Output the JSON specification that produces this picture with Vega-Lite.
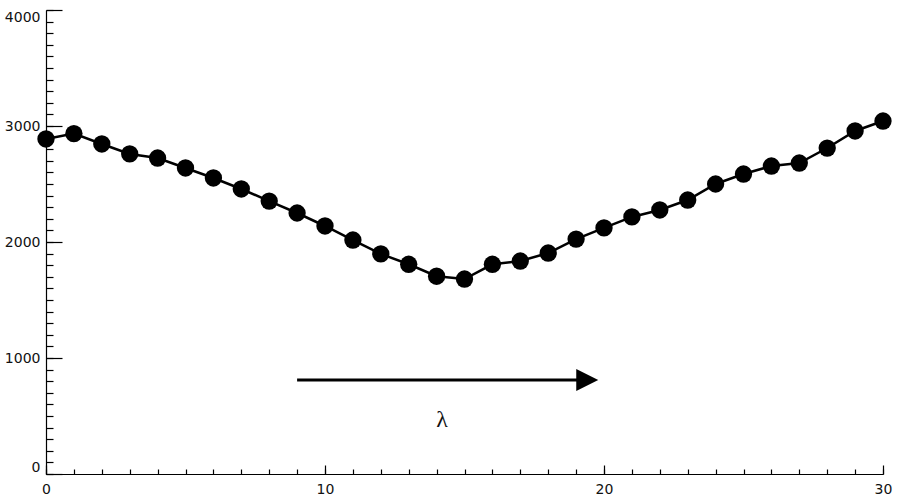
{
  "$schema": "https://vega.github.io/schema/vega-lite/v6.json",
  "width": 837,
  "height": 464,
  "autosize": {"type": "none"},
  "padding": {"left": 46, "top": 10, "right": 17, "bottom": 26},
  "background": "white",
  "config": {
    "view": {"stroke": null},
    "axis": {"labelFont": "DejaVu Sans", "labelFontSize": 14, "labelColor": "#111", "domainColor": "black", "tickColor": "black", "grid": false, "title": null, "domainWidth": 1.2, "tickWidth": 1.2, "format": "d"}
  },
  "datasets": {
    "series": [
      {"x": 0, "y": 2888}, {"x": 1, "y": 2935}, {"x": 2, "y": 2845}, {"x": 3, "y": 2759},
      {"x": 4, "y": 2724}, {"x": 5, "y": 2638}, {"x": 6, "y": 2552}, {"x": 7, "y": 2457},
      {"x": 8, "y": 2353}, {"x": 9, "y": 2250}, {"x": 10, "y": 2138}, {"x": 11, "y": 2017},
      {"x": 12, "y": 1897}, {"x": 13, "y": 1808}, {"x": 14, "y": 1705}, {"x": 15, "y": 1681},
      {"x": 16, "y": 1808}, {"x": 17, "y": 1836}, {"x": 18, "y": 1905}, {"x": 19, "y": 2025},
      {"x": 20, "y": 2121}, {"x": 21, "y": 2216}, {"x": 22, "y": 2276}, {"x": 23, "y": 2362},
      {"x": 24, "y": 2500}, {"x": 25, "y": 2586}, {"x": 26, "y": 2655}, {"x": 27, "y": 2681},
      {"x": 28, "y": 2810}, {"x": 29, "y": 2957}, {"x": 30, "y": 3043}
    ],
    "arrow": [{"x": 9, "x2": 19.1, "y": 810, "head": 19.4}],
    "label": [{"x": 14.2, "y": 465, "text": "λ"}]
  },
  "resolve": {"axis": {"x": "independent", "y": "independent"}},
  "layer": [
    {
      "data": {"name": "series"},
      "mark": {"type": "line", "color": "black", "strokeWidth": 2.5},
      "encoding": {
        "x": {"field": "x", "type": "quantitative", "scale": {"domain": [0, 30], "nice": false},
          "axis": {"orient": "bottom", "values": [0, 10, 20, 30], "tickSize": -9, "labelPadding": 17, "labelFlush": false}},
        "y": {"field": "y", "type": "quantitative", "scale": {"domain": [0, 4000], "nice": false},
          "axis": {"orient": "left", "values": [0, 1000, 2000, 3000, 4000], "tickSize": -16, "labelPadding": 22, "labelFlush": true}}
      }
    },
    {
      "data": {"name": "series"},
      "mark": {"type": "point", "filled": true, "color": "black", "size": 300, "opacity": 1},
      "encoding": {
        "x": {"field": "x", "type": "quantitative",
          "axis": {"orient": "bottom", "values": [0,1,2,3,4,5,6,7,8,9,10,11,12,13,14,15,16,17,18,19,20,21,22,23,24,25,26,27,28,29,30], "tickSize": -5, "labels": false, "domain": false}},
        "y": {"field": "y", "type": "quantitative",
          "axis": {"orient": "left", "values": [0,100,200,300,400,500,600,700,800,900,1000,1100,1200,1300,1400,1500,1600,1700,1800,1900,2000,2100,2200,2300,2400,2500,2600,2700,2800,2900,3000,3100,3200,3300,3400,3500,3600,3700,3800,3900,4000], "tickSize": -7, "labels": false, "domain": false}}
      }
    },
    {
      "data": {"name": "arrow"},
      "mark": {"type": "rule", "color": "black", "strokeWidth": 3},
      "encoding": {
        "x": {"field": "x", "type": "quantitative", "axis": null},
        "x2": {"field": "x2"},
        "y": {"field": "y", "type": "quantitative", "axis": null}
      }
    },
    {
      "data": {"name": "arrow"},
      "mark": {"type": "point", "shape": "M-1,-1L1,0L-1,1Z", "filled": true, "color": "black", "size": 484, "opacity": 1},
      "encoding": {
        "x": {"field": "head", "type": "quantitative", "axis": null},
        "y": {"field": "y", "type": "quantitative", "axis": null}
      }
    },
    {
      "data": {"name": "label"},
      "mark": {"type": "text", "font": "Liberation Serif", "fontSize": 24, "color": "#111", "baseline": "middle", "align": "center"},
      "encoding": {
        "x": {"field": "x", "type": "quantitative", "axis": null},
        "y": {"field": "y", "type": "quantitative", "axis": null},
        "text": {"field": "text"}
      }
    }
  ]
}
